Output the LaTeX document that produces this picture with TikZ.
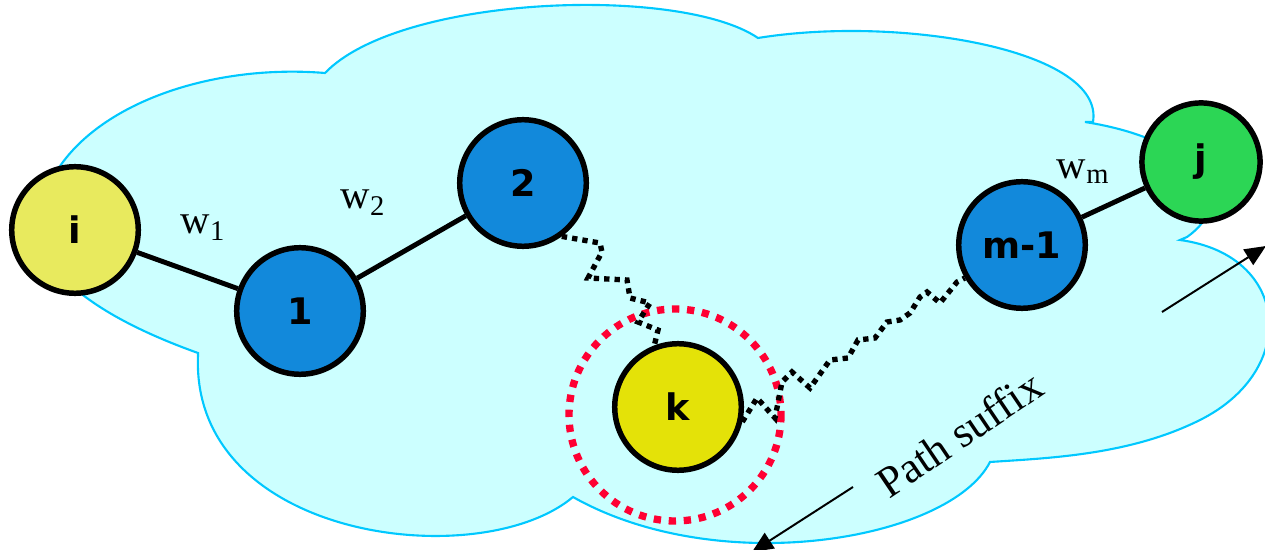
\documentclass[tikz,border=0pt]{standalone}
\usepackage{fontspec}
\setmainfont{Liberation Serif}
\newfontfamily\lblfont{DejaVu Sans}
\usetikzlibrary{arrows.meta}
\definecolor{cloudfill}{RGB}{204,255,255}
\definecolor{cloudedge}{RGB}{0,200,255}
\definecolor{nodeblue}{RGB}{18,137,219}
\definecolor{nodeyellow}{RGB}{232,234,94}
\definecolor{kyellow}{RGB}{228,226,8}
\definecolor{nodegreen}{RGB}{44,214,85}
\definecolor{ringred}{RGB}{255,0,51}

\begin{document}
\begin{tikzpicture}[x=0.025cm,y=-0.025cm,>={Triangle[length=15pt,width=13pt]},
  vertex/.style={circle,draw,line width=3.9pt,minimum size=90pt,inner sep=0pt,
    font=\lblfont\bfseries\fontsize{26}{30}\selectfont},
  edge/.style={line width=3.5pt},
  wiggle/.style={line width=3.8pt,dash pattern=on 3.8pt off 3.6pt},
  wlabel/.style={font=\fontsize{29}{34}\selectfont},
  pointer/.style={->,line width=1.4pt}]
\useasboundingbox (0,0) rectangle (1265,550);
\clip (0,0) rectangle (1265,550);
\draw[cloudedge,fill=cloudfill,line width=1.5pt] (198,353)
  .. controls (100,318) and (30,270) .. (40,215)
  .. controls (55,120) and (190,62) .. (325,73)
  .. controls (400,-5) and (680,-15) .. (758,38)
  .. controls (900,15) and (1105,50) .. (1093,122)
  -- (1085,122)
  .. controls (1200,140) and (1240,200) .. (1187,237)
  -- (1180,240)
  .. controls (1290,255) and (1300,370) .. (1200,420)
  .. controls (1130,455) and (1050,458) .. (990,462)
  .. controls (950,540) and (720,580) .. (573,497)
  .. controls (480,575) and (190,540) .. (198,355) -- cycle;
\draw[ringred,line width=5.2pt,dash pattern=on 5.2pt off 5.5pt] (675,415) circle [radius=106];

\node[vertex,fill=nodeyellow] (ni) at (75,230) {i};
\node[vertex,fill=nodeblue] (n1) at (300,311) {1};
\node[vertex,fill=nodeblue] (n2) at (523,183) {2};
\node[vertex,fill=kyellow] (nk) at (678,407) {k};
\node[vertex,fill=nodeblue] (nm) at (1022,245) {m-1};
\node[vertex,fill=nodegreen,minimum size=84pt] (nj) at (1201,162) {j};

\draw[edge] (ni) -- (n1);
\draw[edge] (n1) -- (n2);
\draw[edge] (nm) -- (nj);
\draw[wiggle] (n2.-54) -- (600,243) -- (602,252) -- (588,278) -- (627,280) -- (630,298)
  -- (650,303) -- (638,322) -- (658,330) -- (nk.111);
\draw[wiggle] (nk.-13) -- (757,398) -- (775,418) -- (782,382) -- (792,372) -- (810,388)
  -- (830,360) -- (848,358) -- (858,340) -- (875,338) -- (887,322) -- (900,320)
  -- (910,313) -- (920,297) -- (927,292) -- (940,303) -- (957,282) -- (nm.210);

\node[wlabel] (w1) at (203,228) {w\textsubscript{1}};
\node[wlabel] (w2) at (363,203) {w\textsubscript{2}};
\node[wlabel] (wm) at (1083,172) {w\textsubscript{m}};
\node[font=\fontsize{31}{36}\selectfont,rotate=34,anchor=base west] (sfx) at (885,502) {Path suffix};

\coordinate (a1s) at (1162,312);
\coordinate (a1e) at (1266,246);
\coordinate (a2s) at (853,487);
\coordinate (a2e) at (752,552);
\draw[pointer] (a1s) -- (a1e);
\draw[pointer] (a2s) -- (a2e);
\end{tikzpicture}
\end{document}
